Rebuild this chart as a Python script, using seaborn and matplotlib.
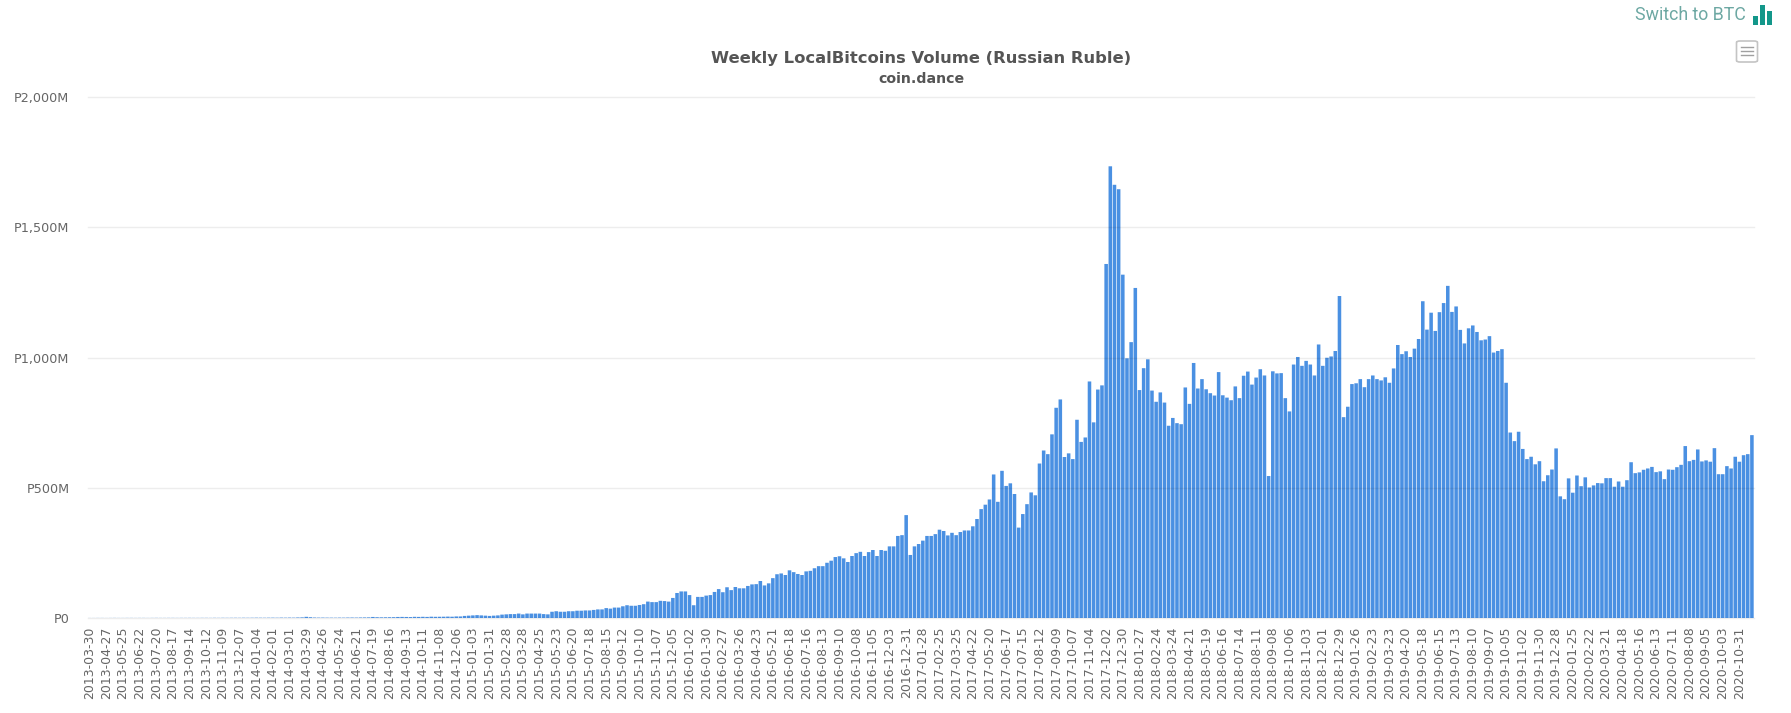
#!/usr/bin/env python3
"""Weekly LocalBitcoins volume in Russian Ruble, coin.dance style bar chart."""
import pandas as pd, numpy as np
import matplotlib; matplotlib.use('Agg')
import matplotlib.pyplot as plt
from matplotlib.patches import FancyBboxPatch
from matplotlib.lines import Line2D
import seaborn as sns

W, H = 1791, 713

# ─── Data (millions of rubles, one value per week) ───
START_DATE = '2013-03-30'
volume = [
    0.2, 0.2, 0.3, 0.3, 0.2, 0.3, 0.4, 0.3, 0.3, 0.4,
    0.4, 0.3, 0.4, 0.4, 0.3, 0.4, 0.5, 0.4, 0.4, 0.5,
    0.5, 0.4, 0.5, 0.5, 0.6, 0.5, 0.5, 0.6, 0.6, 0.5,
    0.7, 0.6, 0.8, 0.7, 0.8, 0.9, 0.8, 1.0, 0.9, 1.0,
    1.2, 1.1, 1.0, 1.2, 1.3, 1.1, 1.5, 1.3, 1.6, 1.4,
    2.0, 2.4, 4.5, 3.0, 1.8, 1.5, 1.6, 1.4, 1.3, 1.2,
    1.5, 1.4, 1.7, 1.8, 1.6, 2.0, 2.2, 2.4, 4.0, 3.0,
    2.6, 2.8, 3.0, 3.2, 4.0, 4.2, 4.0, 3.6, 4.5, 4.2,
    4.6, 4.2, 5.0, 4.6, 4.8, 5.0, 5.4, 5.0, 6.0, 6.0,
    8, 9, 10, 11, 10, 9, 8, 9, 10, 13,
    14, 15, 15, 17, 14, 17, 17, 17, 17, 15,
    14, 24, 26, 24, 24, 26, 26, 28, 28, 29,
    29, 31, 33, 33,
    38, 36, 40, 40, 45, 49, 47, 47, 50, 53,
    63, 61, 61, 66, 65, 63, 77, 96, 102, 102,
    88, 49, 81, 81, 86, 88, 100, 111, 99, 118,
    107, 119, 114, 114, 123, 129, 130, 142, 125, 133,
    153, 168, 171, 165, 183, 176, 169, 165, 179, 181,
    191, 199, 199, 212, 220, 234, 237, 229, 215, 238,
    249, 254, 238, 253, 261, 238, 261, 258, 275, 275,
    315, 318, 395, 242, 275, 284, 297, 315, 315, 322,
    339, 334, 317, 327, 318, 330, 336, 336, 352, 380,
    418, 435, 455, 551, 446, 565, 507, 517, 476, 347,
    399, 437, 482, 471, 593, 643, 629, 705, 807, 839,
    618, 632, 610, 761, 676, 693, 908, 751, 877, 893,
    1359, 1734, 1663, 1646, 1318, 997, 1059, 1267, 875, 959,
    993, 873, 830, 866, 827, 738, 768, 748, 744, 885,
    822, 979, 881, 917, 878, 863, 854, 944, 855, 846,
    836, 889, 844, 930, 946, 896, 923, 955, 931, 545,
    947, 939, 940, 844, 793, 973, 1002, 968, 987, 973,
    931, 1050, 968, 999, 1004, 1025, 1236, 771, 811, 898,
    901, 917, 886, 917, 931, 917, 912, 924, 903, 958,
    1048, 1013, 1024, 1002, 1034, 1071, 1216, 1107, 1172, 1102,
    1174, 1209, 1275, 1175, 1196, 1106, 1054, 1112, 1123, 1098,
    1066, 1069, 1082, 1019, 1025, 1032, 903, 712, 679, 715,
    649, 610, 619, 590, 602, 525, 548, 570, 651, 467,
    456, 536, 481, 547, 506, 540, 501, 509, 518, 517,
    537, 537, 504, 524, 504, 529, 598, 556, 559, 569,
    574, 580, 560, 563, 533, 570, 569, 579, 588, 660,
    602, 607, 647, 601, 605, 600, 652, 552, 552, 583,
    574, 619, 600, 625, 629, 702,
]
y_ticks = [0, 500, 1000, 1500, 2000]
y_labels = ['P0', 'P500M', 'P1,000M', 'P1,500M', 'P2,000M']
icon_bars = [9, 20, 14]

weeks = pd.date_range(START_DATE, periods=len(volume), freq='7D').strftime('%Y-%m-%d')
df = pd.DataFrame({'week': weeks, 'volume': volume})

def fx(x): return x / W
def fy(y): return 1 - y / H

# ─── Main chart ───
fig = plt.figure(figsize=(W / 100, H / 100), dpi=100, facecolor='white')
ax = fig.add_axes([fx(87.5), fy(618), fx(1754 - 87.5), (618 - 97) / H])
sns.barplot(data=df, x='week', y='volume', color='#4a90e2', saturation=1, width=0.85, ax=ax)
for p in ax.patches:
    p.set_snap(False)  # keeps the small early bars faint
    p.set_linewidth(0)

ax.set_xlim(-0.5, len(volume) - 0.5)
ax.set_ylim(0, 2000)
ax.set_xlabel(''); ax.set_ylabel('')
ax.set_xticks(range(0, len(volume), 4))
ax.set_xticklabels(weeks[::4], rotation=90, fontsize=9, color='#666666')
ax.set_yticks(y_ticks)
ax.set_yticklabels(y_labels, fontsize=9.2, color='#666666')
ax.tick_params(axis='both', length=0)
ax.tick_params(axis='x', pad=6)
ax.tick_params(axis='y', pad=13)
ax.set_axisbelow(False)
ax.grid(axis='y', color='black', alpha=0.07, lw=1)
ax.grid(axis='x', visible=False)
for s in ax.spines.values():
    s.set_visible(False)
for line in ax.get_ygridlines():
    line.set_clip_on(False)

# ─── Titles ───
fig.text(fx(921), fy(58), 'Weekly LocalBitcoins Volume (Russian Ruble)', ha='center', va='center',
         fontsize=11.8, fontweight='bold', color='#555555')
fig.text(fx(921), fy(79), 'coin.dance', ha='center', va='center',
         fontsize=10.2, fontweight='bold', color='#555555')

# ─── Switch link and icon ───
fig.text(fx(1690), fy(15), 'Switch to BTC', ha='center', va='center', family='Roboto',
         fontsize=12.8, color='#6da8a3')
ax_icon = fig.add_axes([fx(1752), fy(25), fx(21), 20 / H])
sns.barplot(x=list(range(len(icon_bars))), y=icon_bars, color='#13978a', saturation=1,
            width=0.85, ax=ax_icon)
ax_icon.set_xlim(-0.5, 2.5); ax_icon.set_ylim(0, 20)
ax_icon.axis('off')

# ─── Menu button ───
fig.add_artist(FancyBboxPatch((fx(1736.5), fy(62)), fx(21), 21 / H,
                              boxstyle='round,pad=0,rounding_size=0.002',
                              transform=fig.transFigure, fc='white', ec='#c4c4c4', lw=1.2))
for y in [47, 51, 54.5]:
    fig.add_artist(Line2D([fx(1741), fx(1753)], [fy(y), fy(y)], color='#a0a0a0', lw=1,
                          transform=fig.transFigure))

plt.savefig('out.png', dpi=100, facecolor='white')
plt.close()
